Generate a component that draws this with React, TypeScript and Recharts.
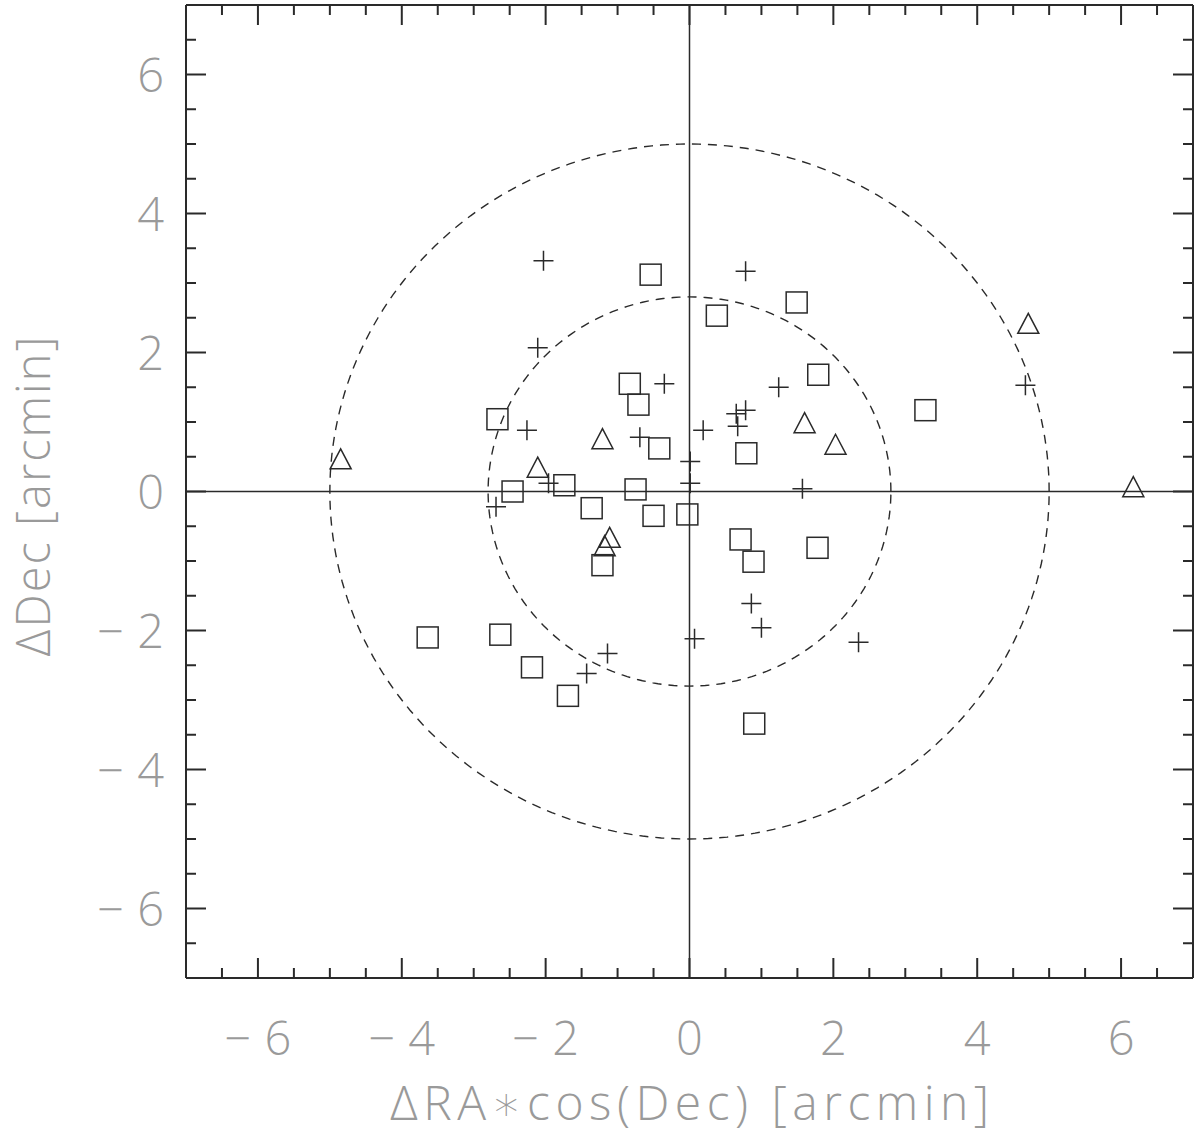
import { ScatterChart, Scatter, XAxis, YAxis, ReferenceLine, Label } from "recharts";

// offsets in arcmin
const plusPoints: [number, number][] = [
  [-2.03, 3.32], [0.78, 3.17], [-2.11, 2.07], [-0.35, 1.55], [1.24, 1.5],
  [4.67, 1.53], [0.78, 1.17], [0.65, 1.12], [0.67, 0.94], [0.19, 0.88],
  [0.01, 0.43], [0.01, 0.12], [1.57, 0.04], [-2.26, 0.88], [-0.69, 0.78],
  [-1.96, 0.12], [-2.69, -0.22], [0.86, -1.61], [1.0, -1.96], [0.07, -2.12],
  [2.35, -2.17], [-1.14, -2.33], [-1.43, -2.62],
];

const squarePoints: [number, number][] = [
  [-0.54, 3.12], [-2.67, 1.04], [-0.83, 1.55], [-0.71, 1.25], [-0.42, 0.62],
  [-1.74, 0.09], [-2.46, 0.0], [-1.36, -0.24], [-0.75, 0.03], [-0.5, -0.35],
  [-0.03, -0.33], [-1.21, -1.06], [1.49, 2.72], [0.38, 2.53], [1.79, 1.68],
  [3.28, 1.17], [0.79, 0.55], [0.71, -0.69], [0.89, -1.01], [1.78, -0.81],
  [-3.64, -2.1], [-2.63, -2.06], [-2.19, -2.53], [-1.69, -2.94], [0.9, -3.34],
];

const trianglePoints: [number, number][] = [
  [-4.85, 0.47], [-2.11, 0.35], [-1.21, 0.76], [-1.11, -0.66], [-1.18, -0.78],
  [4.71, 2.42], [1.6, 0.99], [2.03, 0.68], [6.17, 0.07],
];

const ringRadii = [2.8, 5];

const xTicks = [
  -7, -6.5, -6, -5.5, -5, -4.5, -4, -3.5, -3, -2.5, -2, -1.5, -1, -0.5, 0,
  0.5, 1, 1.5, 2, 2.5, 3, 3.5, 4, 4.5, 5, 5.5, 6, 6.5, 7,
];
const yTicks = xTicks;

const INK = "#2a2a2a";
const LABEL_COLOR = "#9a9a9a";
const LABEL_FONT = "'Open Sans', 'DejaVu Sans', sans-serif";

const toXY = (p: [number, number][]) => p.map(([x, y]) => ({ x, y }));

// the dashed rings are plain circles round the origin
function ring(r: number) {
  const pts = [];
  for (let i = 0; i <= 240; i++) {
    const a = (i / 240) * Math.PI * 2;
    pts.push({ x: r * Math.cos(a), y: r * Math.sin(a) });
  }
  return pts;
}

function PlusMark({ cx, cy }: any) {
  return (
    <path d={`M${cx - 10},${cy}H${cx + 10}M${cx},${cy - 10}V${cy + 10}`} stroke={INK} strokeWidth={1.5} fill="none" />
  );
}

function SquareMark({ cx, cy }: any) {
  return <rect x={cx - 10.5} y={cy - 10.5} width={21} height={21} stroke={INK} strokeWidth={1.5} fill="none" />;
}

function TriangleMark({ cx, cy }: any) {
  return (
    <path d={`M${cx},${cy - 10}L${cx + 10.5},${cy + 10}L${cx - 10.5},${cy + 10}Z`} stroke={INK} strokeWidth={1.5} fill="none" />
  );
}

function TickText({ v }: { v: number }) {
  if (v < 0) {
    return (
      <>
        <tspan>{"\u2212"}</tspan>
        <tspan dx={13}>{Math.abs(v)}</tspan>
      </>
    );
  }
  return <tspan>{v}</tspan>;
}

function FrameTick({ x, y, payload, side }: any) {
  const v = payload.value;
  const major = Math.abs(v % 2) < 1e-9;
  const len = major ? 20 : 10;
  const text = {
    fill: LABEL_COLOR,
    fontFamily: LABEL_FONT,
    fontWeight: 300,
    fontSize: 47,
  };
  if (side === "bottom") {
    return (
      <g>
        <line x1={x} y1={y} x2={x} y2={y - len} stroke={INK} strokeWidth={2} />
        {major && (
          <text x={x} y={y + 77} textAnchor="middle" {...text}>
            <TickText v={v} />
          </text>
        )}
      </g>
    );
  }
  if (side === "left") {
    return (
      <g>
        <line x1={x} y1={y} x2={x + len} y2={y} stroke={INK} strokeWidth={2} />
        {major && (
          <text x={x - 22} y={y + 17} textAnchor="end" {...text}>
            <TickText v={v} />
          </text>
        )}
      </g>
    );
  }
  if (side === "top") {
    return <line x1={x} y1={y} x2={x} y2={y + len} stroke={INK} strokeWidth={2} />;
  }
  return <line x1={x} y1={y} x2={x - len} y2={y} stroke={INK} strokeWidth={2} />;
}

function YTitle({ viewBox }: any) {
  const cx = viewBox.x + 50;
  const cy = viewBox.y + viewBox.height / 2 + 4;
  return (
    <text
      x={cx}
      y={cy}
      transform={`rotate(-90, ${cx}, ${cy})`}
      textAnchor="middle"
      fill={LABEL_COLOR}
      fontFamily={LABEL_FONT}
      fontWeight={300}
      fontSize={47}
      letterSpacing={2}
    >
      ΔDec [arcmin]
    </text>
  );
}

function XTitle({ viewBox }: any) {
  return (
    <text
      x={viewBox.x + viewBox.width / 2 + 3}
      y={viewBox.y + 142}
      textAnchor="middle"
      fill={LABEL_COLOR}
      fontFamily={LABEL_FONT}
      fontWeight={300}
      fontSize={48}
      letterSpacing={5.5}
    >
      ΔRA∗cos(Dec) [arcmin]
    </text>
  );
}

const axisLine = { stroke: INK, strokeWidth: 2 };

export default function App() {
  return (
    <div style={{ position: "absolute", left: 0, top: 0, background: "#fff" }}>
      <ScatterChart width={1200} height={1143} margin={{ top: 0, right: 0, bottom: 0, left: 0 }}>
        <XAxis
          xAxisId="b"
          orientation="bottom"
          type="number"
          dataKey="x"
          domain={[-7, 7]}
          ticks={xTicks}
          interval={0}
          height={165}
          tickSize={0}
          tickMargin={0}
          tickLine={false}
          axisLine={axisLine}
          tick={<FrameTick side="bottom" />}
          allowDataOverflow
        >
          <Label content={<XTitle />} />
        </XAxis>
        <XAxis
          xAxisId="t"
          orientation="top"
          type="number"
          dataKey="x"
          domain={[-7, 7]}
          ticks={xTicks}
          interval={0}
          height={5}
          tickSize={0}
          tickMargin={0}
          tickLine={false}
          axisLine={axisLine}
          tick={<FrameTick side="top" />}
          allowDataOverflow
        />
        <YAxis
          yAxisId="l"
          orientation="left"
          type="number"
          dataKey="y"
          domain={[-7, 7]}
          ticks={yTicks}
          interval={0}
          width={186}
          tickSize={0}
          tickMargin={0}
          tickLine={false}
          axisLine={axisLine}
          tick={<FrameTick side="left" />}
          allowDataOverflow
        >
          <Label content={<YTitle />} />
        </YAxis>
        <YAxis
          yAxisId="r"
          orientation="right"
          type="number"
          dataKey="y"
          domain={[-7, 7]}
          ticks={yTicks}
          interval={0}
          width={7}
          tickSize={0}
          tickMargin={0}
          tickLine={false}
          axisLine={axisLine}
          tick={<FrameTick side="right" />}
          allowDataOverflow
        />
        <ReferenceLine xAxisId="b" yAxisId="l" x={0} stroke={INK} strokeWidth={1.5} />
        <ReferenceLine xAxisId="b" yAxisId="l" y={0} stroke={INK} strokeWidth={1.5} />
        {ringRadii.map((r) => (
          <Scatter
            key={r}
            xAxisId="b"
            yAxisId="l"
            data={ring(r)}
            line={{ stroke: INK, strokeWidth: 1.4, strokeDasharray: "9 7", fill: "none" }}
            shape={() => <g />}
            isAnimationActive={false}
          />
        ))}
        <Scatter xAxisId="b" yAxisId="l" data={toXY(squarePoints)} shape={<SquareMark />} isAnimationActive={false} />
        <Scatter xAxisId="b" yAxisId="l" data={toXY(trianglePoints)} shape={<TriangleMark />} isAnimationActive={false} />
        <Scatter xAxisId="b" yAxisId="l" data={toXY(plusPoints)} shape={<PlusMark />} isAnimationActive={false} />
      </ScatterChart>
    </div>
  );
}
